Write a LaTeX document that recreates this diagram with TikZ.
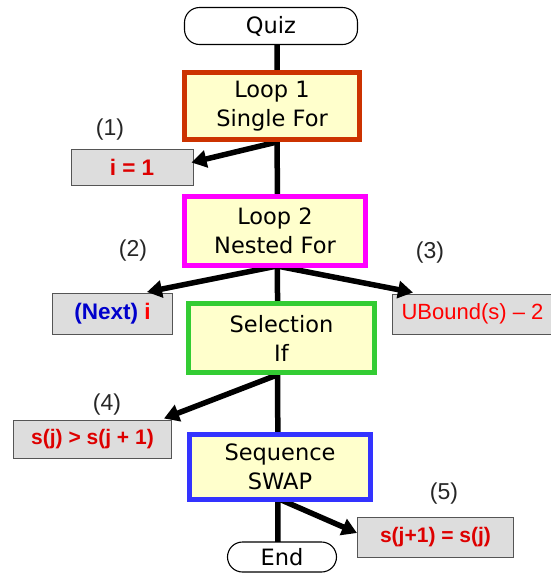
\documentclass[tikz,border=0pt]{standalone}
\usepackage{fontspec}
\setmainfont{Liberation Sans}
\newfontfamily\boxfont{DejaVu Sans}
\usetikzlibrary{arrows.meta,calc}
\pgfdeclarelayer{background}
\pgfsetlayers{background,main}
\definecolor{borange}{HTML}{CC3300}
\definecolor{bmagenta}{HTML}{FF00FF}
\definecolor{bgreen}{HTML}{33CC33}
\definecolor{bblue}{HTML}{3333FF}
\definecolor{byellow}{HTML}{FFFFCC}
\definecolor{bgray}{HTML}{DDDDDD}
\definecolor{gborder}{HTML}{555555}
\definecolor{dred}{HTML}{DD0000}
\definecolor{bred}{HTML}{FF0000}
\definecolor{nblue}{HTML}{0000CC}
\tikzset{
  pill/.style={draw=black, line width=1.1pt, fill=white, rounded corners=15pt,
    font=\boxfont\fontsize{22.5}{27}\selectfont, inner sep=0pt},
  stage/.style={draw=#1, line width=5pt, fill=byellow, align=center, inner sep=0pt,
    font=\boxfont\fontsize{22.5}{29}\selectfont},
  grayb/.style={draw=gborder, line width=1pt, fill=bgray, inner sep=0pt,
    font=\bfseries\fontsize{21}{25}\selectfont, text=dred},
  bigbold/.style={font=\bfseries\fontsize{22.5}{26}\selectfont},
  numlab/.style={font=\fontsize{23}{27}\selectfont, text=black!85},
  conn/.style={line width=5.5pt, -{Triangle[length=15pt,width=17pt]}},
  trunk/.style={line width=5.5pt}
}
\begin{document}
\begin{tikzpicture}[x=1pt,y=-1pt]
\useasboundingbox (0,0) rectangle (551,574);
% nodes
\node[pill, minimum width=173pt, minimum height=37pt] (quiz) at (271,26) {Quiz};
\node[stage=borange, minimum width=175pt, minimum height=67pt] (loop1) at (272,106) {Loop 1\\Single For};
\node[stage=bmagenta, minimum width=181pt, minimum height=69pt] (loop2) at (275,231) {Loop 2\\Nested For};
\node[stage=bgreen, minimum width=186pt, minimum height=69pt] (sel) at (281.5,338) {Selection\\If};
\node[stage=bblue, minimum width=181pt, minimum height=65pt] (seq) at (280,467) {Sequence\\SWAP};
\node[pill, minimum width=109pt, minimum height=30pt] (endn) at (282,557) {End};

\node[grayb, bigbold, minimum width=122pt, minimum height=36pt] (one) at (132,167.5) {i = 1};
\node[grayb, bigbold, minimum width=120pt, minimum height=41pt] (next) at (112.5,314) {\textcolor{nblue}{(Next)} \textcolor{bred}{i}};
\node[grayb, minimum width=160pt, minimum height=40pt, font=\fontsize{22}{25}\selectfont, text=bred] (ub) at (472.5,314) {UBound(s) -- 2};
\node[grayb, minimum width=158pt, minimum height=38pt] (gt) at (92.5,439) {s(j) > s(j + 1)};
\node[grayb, minimum width=156pt, minimum height=40pt] (swap) at (435.5,537) {s(j+1) = s(j)};

\node[numlab] (n1) at (110,130) {(1)};
\node[numlab] (n2) at (133,251) {(2)};
\node[numlab] (n3) at (430,253) {(3)};
\node[numlab] (n4) at (107,405) {(4)};
\node[numlab] (n5) at (444,494) {(5)};

\coordinate (ttop) at (277,44);
\coordinate (tbot) at (278,543);
\coordinate (j1) at (277,142);
\coordinate (j2) at (277,266);
\coordinate (j3) at (277,375);
\coordinate (j4) at (279,499);

\begin{pgfonlayer}{background}
\draw[trunk] (ttop) -- (tbot);
\end{pgfonlayer}
\draw[conn] (j1) -- ($(one.east)+(-2,-5)$);
\draw[conn] (j2) -- ($(next.north east)+(-26,-1)$);
\draw[conn] (j2) -- ($(ub.north west)+(21,-1)$);
\draw[conn] (j3) -- ($(gt.north east)+(-8,-1)$);
\draw[conn] (j4) -- ($(swap.west)+(0,-4)$);
% redraw boxes on top of connector starts
\node[stage=borange, minimum width=175pt, minimum height=67pt] at (loop1) {Loop 1\\Single For};
\node[stage=bmagenta, minimum width=181pt, minimum height=69pt] at (loop2) {Loop 2\\Nested For};
\node[stage=bgreen, minimum width=186pt, minimum height=69pt] at (sel) {Selection\\If};
\node[stage=bblue, minimum width=181pt, minimum height=65pt] at (seq) {Sequence\\SWAP};
\end{tikzpicture}
\end{document}
